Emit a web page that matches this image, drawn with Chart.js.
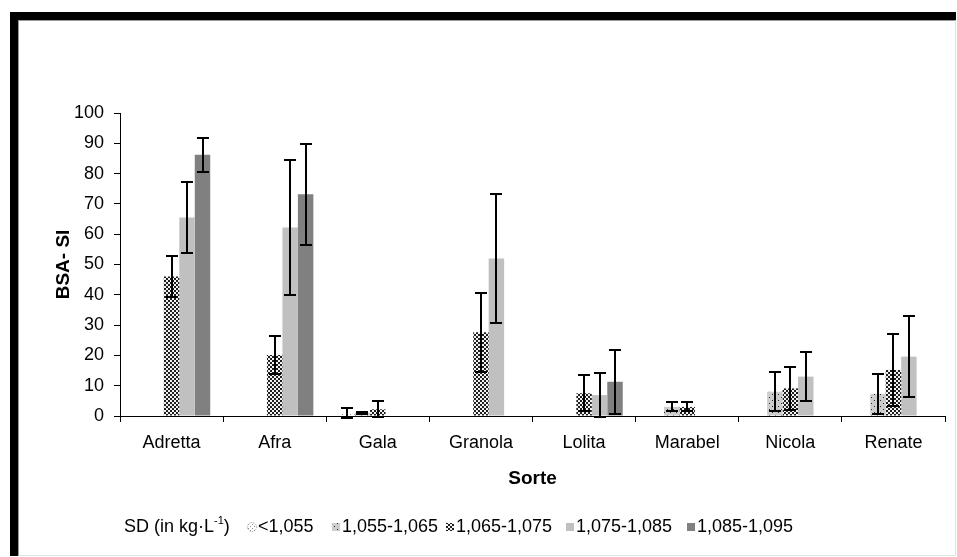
<!DOCTYPE html>
<html>
<head>
<meta charset="utf-8">
<script src="https://cdn.jsdelivr.net/npm/chart.js@4/dist/chart.umd.min.js"></script>
<style>
  html, body { margin: 0; padding: 0; background: #fff; }
  #wrap { position: relative; width: 957px; height: 557px; overflow: hidden; }
  #frame { position: absolute; left: 10px; top: 12px; width: 946px; height: 544px; box-sizing: border-box;
           border-top: 8px solid #000; border-left: 8px solid #000; }
  #inner { position: absolute; left: 0; top: 0; right: 0; bottom: 0;
           border-top: 1px solid #9a9a9a; border-left: 1px solid #9a9a9a;
           border-right: 1px solid #e2e2e2; border-bottom: 1px solid #e2e2e2; }
  #c { position: absolute; left: 0; top: 0; }
</style>
</head>
<body>
<div id="wrap">
  <div id="frame"><div id="inner"></div></div>
  <canvas id="c" width="957" height="557"></canvas>
</div>
<script>
// Potato varieties and specific-density classes
const categories = ['Adretta', 'Afra', 'Gala', 'Granola', 'Lolita', 'Marabel', 'Nicola', 'Renate'];
const seriesLabels = ['<1,055', '1,055-1,065', '1,065-1,075', '1,075-1,085', '1,085-1,095'];

// BSA-SI means per density class
const sdBelow1055 = [null, null, 0.9, null, null, null, null, null];
const sd1055to1065 = [null, null, 1.1, null, null, 3.0, 8.0, 7.3];
const sd1065to1075 = [46.0, 20.1, 2.2, 27.6, 7.5, 3.0, 9.1, 15.2];
const sd1075to1085 = [65.5, 62.2, null, 52.0, 6.9, null, 13.0, 19.6];
const sd1085to1095 = [86.2, 73.2, null, null, 11.3, null, null, null];

// Standard deviations (error bars)
const errBelow1055 = [null, null, 1.6, null, null, null, null, null];
const err1055to1065 = [null, null, 0.3, null, null, 1.5, 6.4, 6.6];
const err1065to1075 = [6.7, 6.2, 2.6, 13.0, 6.0, 1.5, 7.0, 12.0];
const err1075to1085 = [11.7, 22.3, null, 21.2, 7.2, null, 8.1, 13.4];
const err1085to1095 = [5.7, 16.7, null, null, 10.5, null, null, null];

const yMin = 0, yMax = 100, yStep = 10;

const FONT = '"Liberation Sans", Arial, sans-serif';
const canvas = document.getElementById('c');
const ctx0 = canvas.getContext('2d');

function makePattern(size, bg, dots) {
  const c = document.createElement('canvas');
  c.width = c.height = size;
  const g = c.getContext('2d');
  g.fillStyle = bg;
  g.fillRect(0, 0, size, size);
  dots.forEach(([px, py, w, h, col]) => { g.fillStyle = col; g.fillRect(px, py, w, h); });
  return ctx0.createPattern(c, 'repeat');
}

const fills = [
  makePattern(4, '#ffffff', [[0, 0, 1, 1, '#8a8a8a'], [2, 2, 1, 1, '#8a8a8a']]),
  makePattern(6, '#cdcdcd', [[1, 1, 1, 1, '#2a2a2a'], [4, 4, 1, 1, '#2a2a2a']]),
  makePattern(4, '#f2f2f2', [[0, 0, 2, 2, '#1e1e1e'], [2, 2, 2, 2, '#1e1e1e']]),
  '#c0c0c0',
  '#808080'
];

const values = [sdBelow1055, sd1055to1065, sd1065to1075, sd1075to1085, sd1085to1095];
const errors = [errBelow1055, err1055to1065, err1065to1075, err1075to1085, err1085to1095];

const datasets = seriesLabels.map((label, i) => ({
  label,
  data: values[i],
  errors: errors[i],
  backgroundColor: fills[i],
  borderWidth: 0,
  categoryPercentage: 0.75,
  barPercentage: 1.0
}));

// Vertical whiskers with caps, placed on each bar through the y scale
const errorBars = {
  id: 'errorBars',
  afterDatasetsDraw(chart) {
    const { ctx, scales: { y } } = chart;
    ctx.save();
    ctx.strokeStyle = '#000';
    ctx.lineWidth = 2;
    chart.data.datasets.forEach((ds, i) => {
      const meta = chart.getDatasetMeta(i);
      meta.data.forEach((bar, j) => {
        const v = ds.data[j], e = ds.errors[j];
        if (v == null || e == null) return;
        const x = Math.round(bar.x);
        const yt = Math.round(y.getPixelForValue(v + e));
        const yb = Math.round(y.getPixelForValue(v - e));
        ctx.beginPath();
        ctx.moveTo(x, yt); ctx.lineTo(x, yb);
        ctx.moveTo(x - 6, yt); ctx.lineTo(x + 6, yt);
        ctx.moveTo(x - 6, yb); ctx.lineTo(x + 6, yb);
        ctx.stroke();
      });
    });
    ctx.restore();
  }
};

// Single-row legend with a leading caption
const legendRow = {
  id: 'legendRow',
  afterDraw(chart) {
    const ctx = chart.ctx;
    const y = 527;
    ctx.save();
    ctx.fillStyle = '#000';
    ctx.textBaseline = 'middle';
    ctx.font = '18px ' + FONT;
    let x = 124;
    const head = 'SD (in kg\u00B7L';
    ctx.fillText(head, x, y);
    x += ctx.measureText(head).width;
    ctx.font = '11px ' + FONT;
    ctx.fillText('-1', x, y - 6);
    x += ctx.measureText('-1').width;
    ctx.font = '18px ' + FONT;
    ctx.fillText(')', x, y);

    const markerX = [248, 332, 446, 566, 687];
    chart.data.datasets.forEach((ds, i) => {
      const mx = markerX[i];
      ctx.fillStyle = ds.backgroundColor;
      ctx.fillRect(mx, y - 4, 8, 8);
      if (i === 0) {
        ctx.strokeStyle = '#9a9a9a';
        ctx.lineWidth = 1;
        ctx.setLineDash([1, 1]);
        ctx.beginPath();
        ctx.arc(mx + 4, y, 4.5, 0, Math.PI * 2);
        ctx.stroke();
        ctx.setLineDash([]);
      }
      ctx.fillStyle = '#000';
      ctx.fillText(ds.label, mx + 10, y);
    });
    ctx.restore();
  }
};

new Chart(canvas, {
  type: 'bar',
  data: { labels: categories, datasets },
  options: {
    responsive: false,
    animation: false,
    devicePixelRatio: 1,
    layout: { padding: { left: 0, right: 12, top: 113, bottom: 67 } },
    plugins: {
      legend: { display: false },
      tooltip: { enabled: false }
    },
    scales: {
      x: {
        type: 'category',
        afterFit(scale) { scale.height = 74; },
        grid: { offset: true, drawOnChartArea: false, drawTicks: true, tickLength: 6, color: '#000' },
        border: { display: true, color: '#000', width: 1 },
        ticks: { color: '#000', font: { family: FONT, size: 18 }, padding: 10, maxRotation: 0 },
        title: { display: true, text: 'Sorte', color: '#000',
                 font: { family: FONT, size: 19, weight: 'bold' }, padding: { top: 0, bottom: 0 } }
      },
      y: {
        min: yMin, max: yMax,
        afterFit(scale) { scale.width = 120; },
        grid: { drawOnChartArea: false, drawTicks: true, tickLength: 6, color: '#000' },
        border: { display: true, color: '#000', width: 1 },
        ticks: { stepSize: yStep, color: '#000', font: { family: FONT, size: 18 }, padding: 10 },
        title: { display: true, text: 'BSA- SI', color: '#000',
                 font: { family: FONT, size: 19, weight: 'bold' }, padding: { top: 52, bottom: 0 } }
      }
    }
  },
  plugins: [errorBars, legendRow]
});
</script>
</body>
</html>
